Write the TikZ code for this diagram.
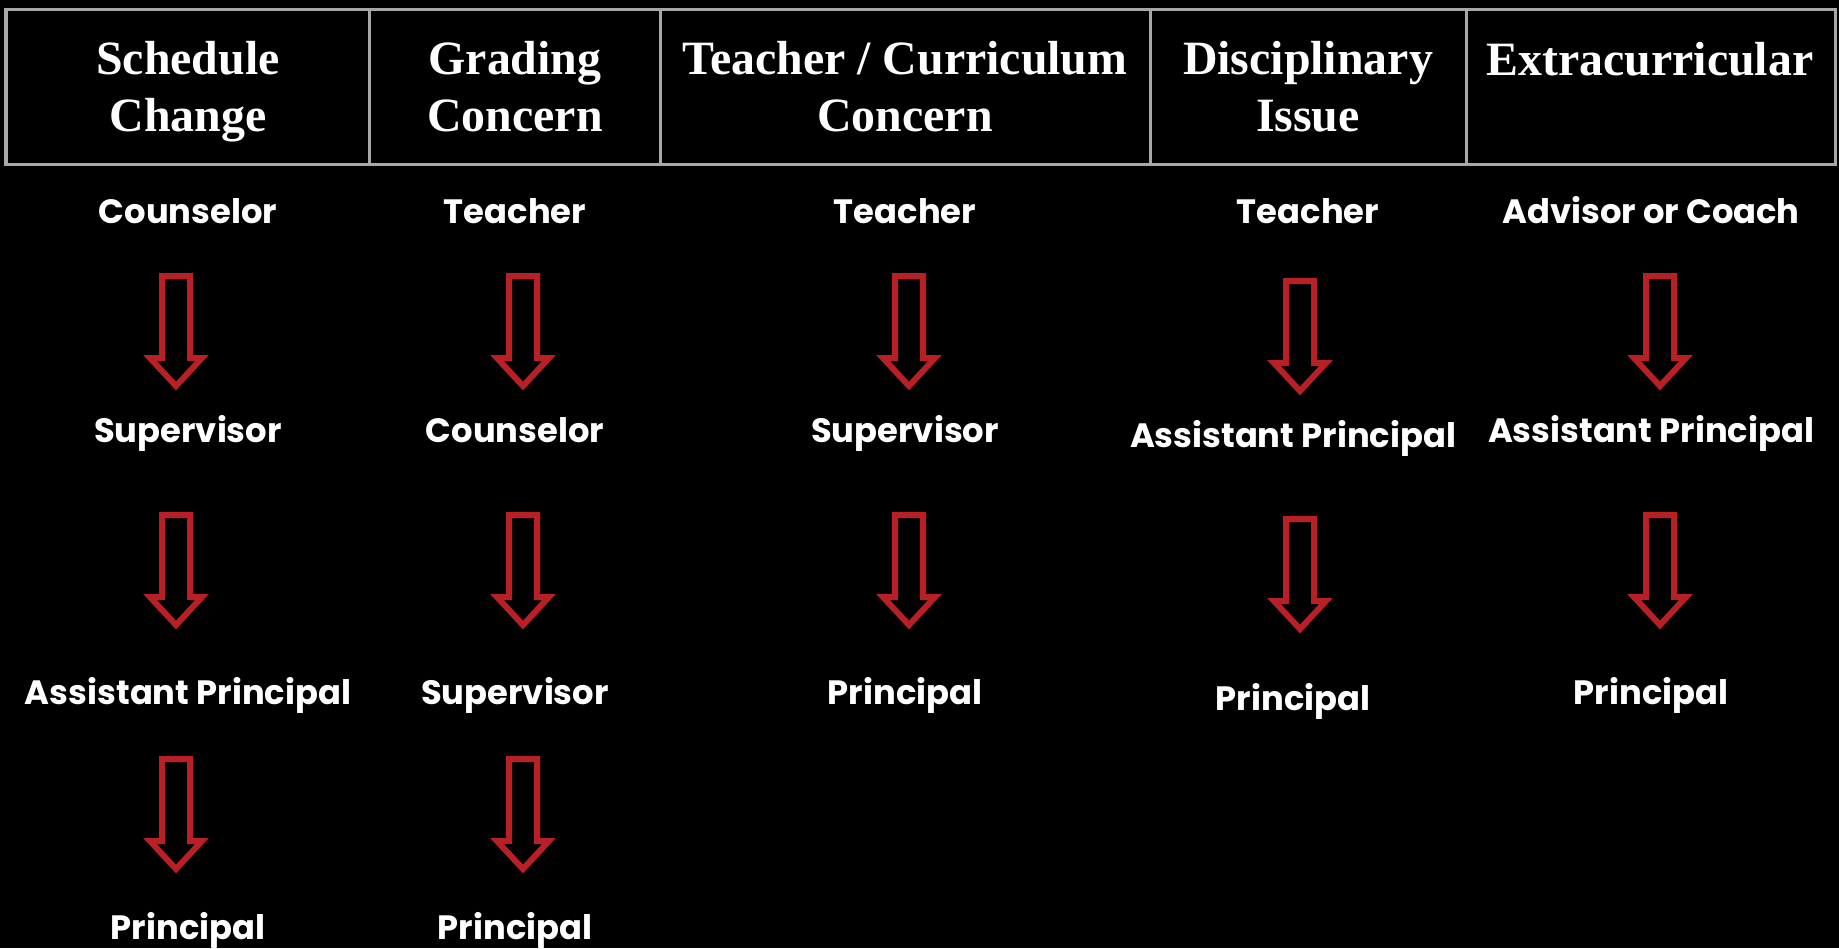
\documentclass[tikz,border=0pt]{standalone}
\usepackage{fontspec}
\setmainfont{Liberation Serif}
\newfontfamily\levelfont{Poppins}
\usetikzlibrary{positioning}

\definecolor{tablegrey}{RGB}{168,168,168}
\definecolor{arrowred}{RGB}{185,32,38}

\begin{document}
\begin{tikzpicture}[
    x=0.01cm, y=-0.01cm,
    head/.style={text=white, font=\bfseries\fontsize{13.6}{16.2}\selectfont, align=center, inner sep=0pt, anchor=base},
    level/.style={text=white, font=\levelfont\bfseries\fontsize{9.6}{12}\selectfont, inner sep=0pt, anchor=base},
    tableline/.style={draw=tablegrey, line width=0.03cm},
    downarrow/.pic={\draw[arrowred, line width=0.06cm, line join=miter]
        (-14,0) -- (14,0) -- (14,82) -- (26,82) -- (0,110) -- (-26,82) -- (-14,82) -- cycle;}
]

% Background
\fill[black] (0,0) rectangle (1839,948);
\useasboundingbox (0,0) rectangle (1839,948);

% Header table
\draw[tableline] (6,9) rectangle (1835,164);
\draw[tableline] (369,9) -- (369,164);
\draw[tableline] (660,9) -- (660,164);
\draw[tableline] (1150,9) -- (1150,164);
\draw[tableline] (1466,9) -- (1466,164);

\node[head] (schedule) at (188,131) {Schedule\\Change};
\node[head] (grading) at (515,131) {Grading\\Concern};
\node[head] (curriculum) at (905,131) {Teacher / Curriculum\\Concern};
\node[head] (discipline) at (1308,131) {Disciplinary\\Issue};
\node[head] (extra) at (1650,75) {Extracurricular};

% Schedule change
\node[level] (s1) at (188,223) {Counselor};
\node[level] (s2) at (188,442) {Supervisor};
\node[level] (s3) at (188,704) {Assistant Principal};
\node[level] (s4) at (188,939) {Principal};

% Grading concern
\node[level] (g1) at (515,223) {Teacher};
\node[level] (g2) at (515,442) {Counselor};
\node[level] (g3) at (515,704) {Supervisor};
\node[level] (g4) at (515,939) {Principal};

% Teacher / curriculum concern
\node[level] (c1) at (905,223) {Teacher};
\node[level] (c2) at (905,442) {Supervisor};
\node[level] (c3) at (905,704) {Principal};

% Disciplinary issue
\node[level] (d1) at (1308,223) {Teacher};
\node[level] (d2) at (1293,447) {Assistant Principal};
\node[level] (d3) at (1293,710) {Principal};

% Extracurricular
\node[level] (e1) at (1651,223) {Advisor or Coach};
\node[level] (e2) at (1651,442) {Assistant Principal};
\node[level] (e3) at (1651,704) {Principal};

% Arrows
\pic (sa1) at (176,276) {downarrow};
\pic (sa2) at (176,515) {downarrow};
\pic (sa3) at (176,759) {downarrow};
\pic (ga1) at (523,276) {downarrow};
\pic (ga2) at (523,515) {downarrow};
\pic (ga3) at (523,759) {downarrow};
\pic (ca1) at (909,276) {downarrow};
\pic (ca2) at (909,515) {downarrow};
\pic (da1) at (1300,281) {downarrow};
\pic (da2) at (1300,519) {downarrow};
\pic (ea1) at (1660,276) {downarrow};
\pic (ea2) at (1660,515) {downarrow};

\end{tikzpicture}
\end{document}
